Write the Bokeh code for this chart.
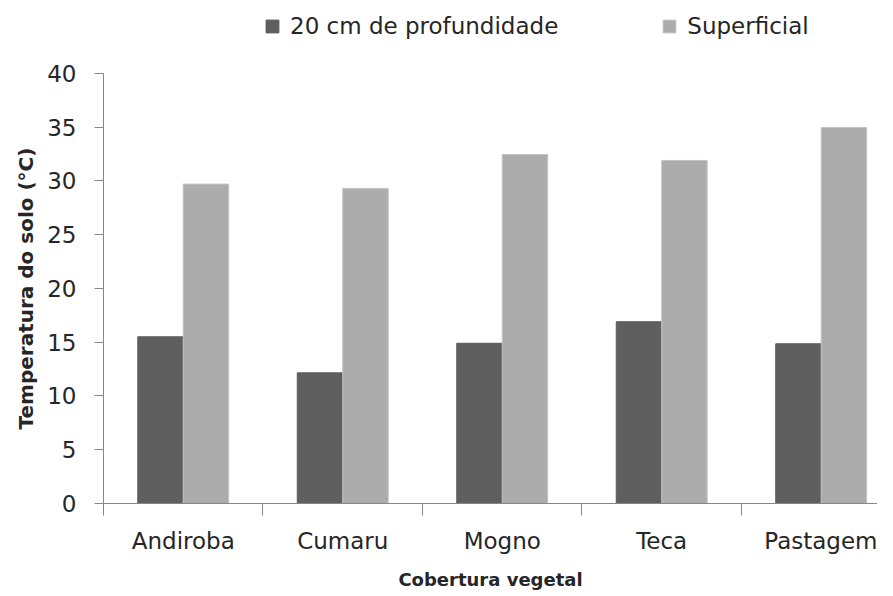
import numpy as np
from bokeh.plotting import figure
from bokeh.models import Range1d, FixedTicker, Legend, LegendItem, ColumnDataSource, Title
from bokeh.embed import file_html
from bokeh.resources import INLINE

categories = ["Andiroba", "Cumaru", "Mogno", "Teca", "Pastagem"]
profundidade = [15.5, 12.15, 14.9, 16.9, 14.85]
superficial = [29.7, 29.3, 32.45, 31.9, 34.97]
y_ticks = [0, 5, 10, 15, 20, 25, 30, 35, 40]

FONT = "DejaVu Sans"
TXT = "#262626"
AX = "#868686"

centers = np.arange(len(categories)) + 0.5
bw = 0.285

src = ColumnDataSource(dict(
    cat=categories,
    xd=centers - bw / 2,
    xs=centers + bw / 2,
    prof=profundidade,
    sup=superficial,
))

p = figure(width=877, height=592, output_backend="svg", toolbar_location=None,
           x_range=Range1d(0, 4.853), y_range=Range1d(0, 46.77),
           x_axis_location="below", y_axis_location="left",
           min_border_left=103, min_border_right=0, min_border_top=0, min_border_bottom=88)
p.grid.visible = False
p.outline_line_color = None
p.background_fill_color = "white"

r1 = p.vbar(x="xd", top="prof", width=bw, source=src, fill_color="#5f5f5f", line_color="#5a5a5a", line_width=1)
r2 = p.vbar(x="xs", top="sup", width=bw, source=src, fill_color="#acacac", line_color="#c4c4c4", line_width=1)

# y axis (line drawn only from 0 to 40)
ya = p.yaxis[0]
ya.ticker = FixedTicker(ticks=y_ticks)
ya.bounds = (0, 40)
ya.axis_line_color = AX
ya.major_tick_line_color = AX
ya.major_tick_in = 0
ya.major_tick_out = 9
ya.minor_tick_line_color = None
ya.major_label_standoff = 18
ya.major_label_text_font = FONT
ya.major_label_text_font_size = "23px"
ya.major_label_text_color = TXT

ytitle = Title(text="Temperatura do solo (°C)", align="left", offset=74, standoff=14,
               text_font=FONT, text_font_style="bold", text_font_size="20px", text_color=TXT)
p.add_layout(ytitle, "left")

# x axis: labels at category centers, boundary ticks as minor ticks
xa = p.xaxis[0]
xa.ticker = FixedTicker(ticks=list(centers), minor_ticks=list(range(len(categories) + 1)))
xa.major_label_overrides = {float(c): n for c, n in zip(centers, categories)}
xa.axis_line_color = AX
xa.major_tick_line_color = None
xa.major_tick_in = 0
xa.major_tick_out = 0
xa.minor_tick_line_color = AX
xa.minor_tick_in = 0
xa.minor_tick_out = 12
xa.major_label_standoff = 12
xa.major_label_text_font = FONT
xa.major_label_text_font_size = "23px"
xa.major_label_text_color = TXT
xa.axis_label = "Cobertura vegetal"
xa.axis_label_text_font = FONT
xa.axis_label_text_font_style = "bold"
xa.axis_label_text_font_size = "18px"
xa.axis_label_text_color = TXT
xa.axis_label_standoff = 12

legend = Legend(items=[LegendItem(label="20 cm de profundidade", renderers=[r1]),
                       LegendItem(label="Superficial", renderers=[r2])],
                orientation="horizontal", location=(161, 464))
legend.border_line_color = None
legend.background_fill_alpha = 0
legend.glyph_width = 16
legend.glyph_height = 16
legend.label_text_font = FONT
legend.label_text_font_size = "23px"
legend.label_text_color = TXT
legend.spacing = 103
legend.label_standoff = 10
legend.padding = 4
legend.margin = 0
p.add_layout(legend, "center")

open("out.html", "w").write(file_html(p, INLINE))
